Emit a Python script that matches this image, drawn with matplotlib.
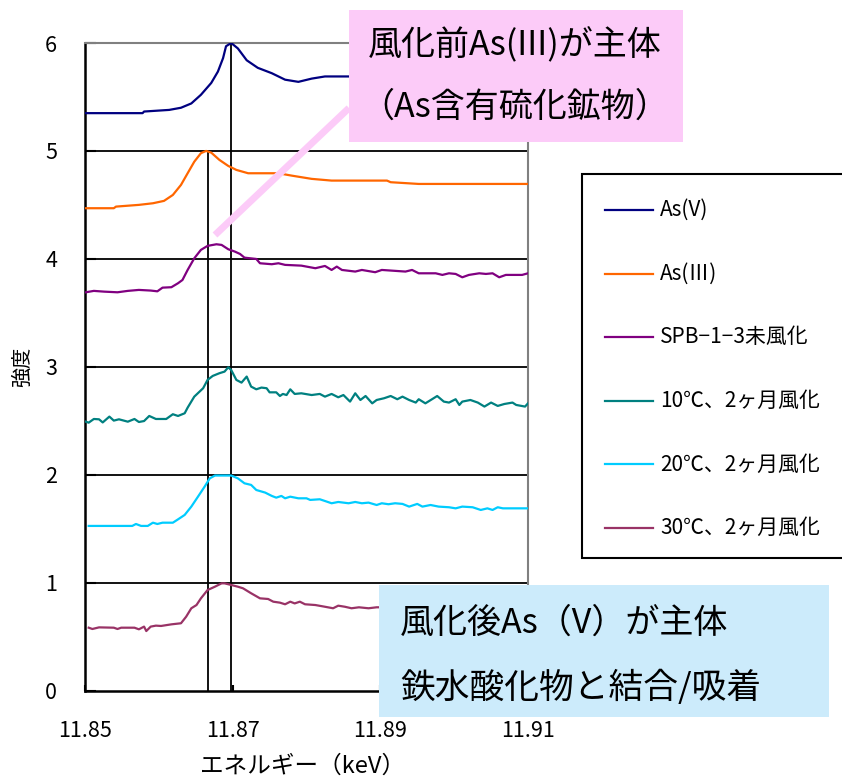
import matplotlib
matplotlib.use('Agg')
import matplotlib.pyplot as plt
from matplotlib.patches import Rectangle
from matplotlib.lines import Line2D

plt.rcParams['font.family'] = ['Noto Sans CJK JP', 'DejaVu Sans']

# --- XANES スペクトル (As K吸収端) ---
e_as5 = [11.8501, 11.8578, 11.8580, 11.8614, 11.8630, 11.8644, 11.8657, 11.8671, 11.8680, 11.8687,
         11.8691, 11.8698, 11.8707, 11.8719, 11.8734, 11.8753, 11.8771, 11.8789, 11.8807, 11.8825,
         11.8857, 11.8950, 11.9100]
i_as5 = [5.35, 5.35, 5.365, 5.38, 5.40, 5.44, 5.52, 5.63, 5.735, 5.86,
         5.97, 6.00, 5.95, 5.84, 5.77, 5.72, 5.66, 5.64, 5.67, 5.69,
         5.69, 5.69, 5.69]

e_as3 = [11.8501, 11.8539, 11.8542, 11.8573, 11.8592, 11.8607, 11.8619, 11.8630, 11.8639, 11.8648,
         11.8657, 11.8664, 11.8671, 11.8682, 11.8694, 11.8705, 11.8721, 11.8762, 11.8780, 11.8807,
         11.8834, 11.8909, 11.8914, 11.8952, 11.9100]
i_as3 = [4.469, 4.469, 4.484, 4.500, 4.515, 4.537, 4.592, 4.685, 4.793, 4.900,
         4.979, 5.000, 4.984, 4.917, 4.861, 4.824, 4.793, 4.793, 4.771, 4.741,
         4.725, 4.725, 4.710, 4.694, 4.694]

e_spb = [11.8501, 11.8512, 11.8526, 11.8544, 11.8558, 11.8573, 11.8589, 11.8598, 11.8605, 11.8617,
         11.8626, 11.8632, 11.8639, 11.8648, 11.8657, 11.8666, 11.8678, 11.8685, 11.8694, 11.8703,
         11.8710, 11.8716, 11.8732, 11.8737, 11.8753, 11.8762, 11.8771, 11.8793, 11.8812, 11.8825,
         11.8834, 11.8841, 11.8848, 11.8866, 11.8875, 11.8893, 11.8902, 11.8934, 11.8943, 11.8952,
         11.8975, 11.8984, 11.8993, 11.9002, 11.9011, 11.9020, 11.9034, 11.9043, 11.9052, 11.9061,
         11.9070, 11.9092, 11.9100]
i_spb = [3.690, 3.703, 3.696, 3.690, 3.703, 3.712, 3.706, 3.699, 3.733, 3.737,
         3.774, 3.804, 3.897, 4.005, 4.083, 4.120, 4.135, 4.129, 4.089, 4.067,
         4.045, 4.011, 3.999, 3.959, 3.950, 3.959, 3.944, 3.937, 3.913, 3.934,
         3.897, 3.928, 3.897, 3.882, 3.897, 3.876, 3.897, 3.882, 3.897, 3.866,
         3.866, 3.851, 3.866, 3.860, 3.829, 3.851, 3.866, 3.860, 3.866, 3.829,
         3.851, 3.851, 3.866]

e_10c = [11.8501, 11.8505, 11.8512, 11.8519, 11.8524, 11.8533, 11.8539, 11.8546, 11.8558, 11.8567,
         11.8573, 11.8580, 11.8587, 11.8596, 11.8610, 11.8619, 11.8626, 11.8635, 11.8639, 11.8648,
         11.8660, 11.8666, 11.8673, 11.8682, 11.8689, 11.8694, 11.8698, 11.8705, 11.8712, 11.8719,
         11.8725, 11.8732, 11.8739, 11.8746, 11.8750, 11.8759, 11.8764, 11.8768, 11.8773, 11.8778,
         11.8784, 11.8793, 11.8807, 11.8818, 11.8825, 11.8834, 11.8843, 11.8850, 11.8859, 11.8866,
         11.8873, 11.8880, 11.8889, 11.8895, 11.8905, 11.8914, 11.8923, 11.8930, 11.8939, 11.8948,
         11.8952, 11.8961, 11.8970, 11.8977, 11.8986, 11.8993, 11.9002, 11.9007, 11.9011, 11.9022,
         11.9032, 11.9041, 11.9050, 11.9059, 11.9068, 11.9079, 11.9084, 11.9096, 11.9100]
i_10c = [2.491, 2.482, 2.516, 2.513, 2.484, 2.538, 2.501, 2.513, 2.491, 2.516,
         2.488, 2.497, 2.544, 2.516, 2.516, 2.560, 2.544, 2.569, 2.621, 2.723,
         2.801, 2.878, 2.915, 2.940, 2.955, 2.995, 2.970, 2.878, 2.853, 2.909,
         2.816, 2.791, 2.807, 2.801, 2.763, 2.763, 2.729, 2.748, 2.738, 2.791,
         2.748, 2.754, 2.738, 2.748, 2.723, 2.748, 2.717, 2.738, 2.677, 2.754,
         2.692, 2.729, 2.661, 2.692, 2.708, 2.729, 2.699, 2.723, 2.692, 2.668,
         2.699, 2.661, 2.699, 2.729, 2.677, 2.668, 2.699, 2.646, 2.677, 2.692,
         2.668, 2.631, 2.668, 2.637, 2.655, 2.668, 2.646, 2.631, 2.661]

e_20c = [11.8505, 11.8564, 11.8569, 11.8576, 11.8585, 11.8592, 11.8598, 11.8605, 11.8619, 11.8626,
         11.8635, 11.8644, 11.8653, 11.8662, 11.8669, 11.8676, 11.8698, 11.8707, 11.8716, 11.8725,
         11.8732, 11.8744, 11.8753, 11.8759, 11.8766, 11.8771, 11.8778, 11.8789, 11.8800, 11.8805,
         11.8818, 11.8825, 11.8834, 11.8843, 11.8857, 11.8866, 11.8875, 11.8884, 11.8895, 11.8902,
         11.8911, 11.8920, 11.8930, 11.8939, 11.8950, 11.8957, 11.8968, 11.8979, 11.8993, 11.9002,
         11.9011, 11.9025, 11.9036, 11.9045, 11.9052, 11.9059, 11.9066, 11.9100]
i_20c = [1.525, 1.525, 1.543, 1.525, 1.525, 1.555, 1.543, 1.555, 1.555, 1.586,
         1.627, 1.704, 1.796, 1.889, 1.966, 1.992, 1.992, 1.966, 1.920, 1.905,
         1.858, 1.834, 1.803, 1.787, 1.803, 1.781, 1.796, 1.781, 1.781, 1.766,
         1.772, 1.756, 1.735, 1.747, 1.735, 1.747, 1.735, 1.741, 1.719, 1.735,
         1.726, 1.735, 1.729, 1.704, 1.729, 1.704, 1.719, 1.704, 1.698, 1.688,
         1.704, 1.698, 1.673, 1.688, 1.673, 1.698, 1.688, 1.688]

e_30c = [11.8505, 11.8510, 11.8519, 11.8539, 11.8544, 11.8549, 11.8567, 11.8573, 11.8580, 11.8583,
         11.8589, 11.8596, 11.8603, 11.8617, 11.8630, 11.8637, 11.8644, 11.8651, 11.8657, 11.8666,
         11.8676, 11.8685, 11.8689, 11.8698, 11.8707, 11.8714, 11.8725, 11.8737, 11.8748, 11.8755,
         11.8764, 11.8771, 11.8778, 11.8784, 11.8791, 11.8798, 11.8812, 11.8825, 11.8836, 11.8843,
         11.8852, 11.8861, 11.8871, 11.8884, 11.8895, 11.8990, 11.9100]
i_30c = [0.582, 0.570, 0.585, 0.582, 0.570, 0.582, 0.582, 0.567, 0.592, 0.551,
         0.592, 0.601, 0.598, 0.613, 0.623, 0.684, 0.762, 0.792, 0.854, 0.931,
         0.962, 0.993, 0.993, 0.978, 0.962, 0.947, 0.901, 0.854, 0.848, 0.823,
         0.814, 0.799, 0.823, 0.807, 0.823, 0.799, 0.792, 0.776, 0.762, 0.786,
         0.776, 0.762, 0.771, 0.762, 0.771, 0.770, 0.760]

labels = ['As(V)', 'As(Ⅲ)', 'SPB−1−3未風化',
          '10℃、2ヶ月風化', '20℃、2ヶ月風化', '30℃、2ヶ月風化']
colors = ['#000080', '#FF6600', '#800080', '#008080', '#00CCFF', '#993366']
series = [(e_as5, i_as5), (e_as3, i_as3), (e_spb, i_spb),
          (e_10c, i_10c), (e_20c, i_20c), (e_30c, i_30c)]

# 吸収端の位置 (As(III), As(V) のピーク)
edge_as3, top_as3 = 11.8666, 5
edge_as5, top_as5 = 11.8698, 6

W, H = 842, 778


def fx(px):
    return px / W


def fy(py):
    return 1 - py / H


fig = plt.figure(figsize=(W / 100, H / 100), dpi=100)
ax_w, ax_h = 528 - 85, 690.5 - 43
ax = fig.add_axes([fx(85), fy(690.5), ax_w / W, ax_h / H])

for ypos in range(1, 6):
    ax.axhline(ypos, color='black', lw=1.3, zorder=1)
ax.vlines([edge_as3], 0, top_as3, color='black', lw=1.3, zorder=1)
ax.vlines([edge_as5], 0, top_as5, color='black', lw=1.3, zorder=1)

for (e, i), c, lab in zip(series, colors, labels):
    ax.plot(e, i, color=c, lw=1.6, label=lab, zorder=3)

ax.set_xlim(11.85, 11.91)
ax.set_ylim(0, 6)
ax.set_xticks([11.85, 11.87, 11.89, 11.91])
ax.set_xticklabels(['11.85', '11.87', '11.89', '11.91'])
ax.set_yticks(range(0, 7))
ax.tick_params(axis='y', direction='in', length=8, width=1.5, pad=20, labelsize=15.5)
ax.tick_params(axis='x', direction='in', length=4, width=1.5, pad=21, labelsize=15.5)
for side in ['left', 'bottom']:
    ax.spines[side].set_color('black')
    ax.spines[side].set_linewidth(1.8)
for side in ['top', 'right']:
    ax.spines[side].set_color('#808080')
    ax.spines[side].set_linewidth(1.5)

ax.set_xlabel('エネルギー（keV）', fontsize=17)
ax.xaxis.set_label_coords(0.49, -(766 - 690.5) / ax_h)
ax.xaxis.label.set_va('center')
ax.set_ylabel('強度', fontsize=14.5)
ax.yaxis.set_label_coords(-(85 - 22) / ax_w, 0.5)
ax.yaxis.label.set_va('center')

# 凡例 (右側は図の外まではみ出す枠)
fig.add_artist(Rectangle((fx(582), fy(558)), (870 - 582) / W, (558 - 174) / H,
                         transform=fig.transFigure, facecolor='white',
                         edgecolor='black', lw=1.5, zorder=5))
for k, (lab, c) in enumerate(zip(labels, colors)):
    yy = 210 + k * 63.6
    fig.add_artist(Line2D([fx(605), fx(653)], [fy(yy), fy(yy)], color=c, lw=1.6,
                          transform=fig.transFigure, zorder=6))
    fig.text(fx(660), fy(yy), lab, fontsize=15, va='center', ha='left', zorder=6)

# 注記: 風化前
pink = '#FCCBF8'
fig.add_artist(Line2D([fx(215), fx(349)], [fy(235), fy(108)], color=pink, lw=5,
                      solid_capstyle='butt', transform=fig.transFigure, zorder=5))
fig.add_artist(Rectangle((fx(349), fy(142)), (683 - 349) / W, (142 - 10) / H,
                         transform=fig.transFigure, facecolor=pink,
                         edgecolor='none', zorder=5))
fig.text(fx(368), fy(45), '風化前As(III)が主体', fontsize=24.5, va='center', ha='left', zorder=6)
fig.text(fx(360), fy(107), '（As含有硫化鉱物）', fontsize=24.5, va='center', ha='left', zorder=6)

# 注記: 風化後
blue = '#CCEBFB'
fig.add_artist(Rectangle((fx(379), fy(717)), (829 - 379) / W, (717 - 585) / H,
                         transform=fig.transFigure, facecolor=blue,
                         edgecolor='none', zorder=5))
fig.text(fx(400), fy(623), '風化後As（V）が主体', fontsize=24.5, va='center', ha='left', zorder=6)
fig.text(fx(400), fy(688), '鉄水酸化物と結合/吸着', fontsize=25, va='center', ha='left', zorder=6)

fig.savefig('out.png', dpi=100, facecolor='white')
